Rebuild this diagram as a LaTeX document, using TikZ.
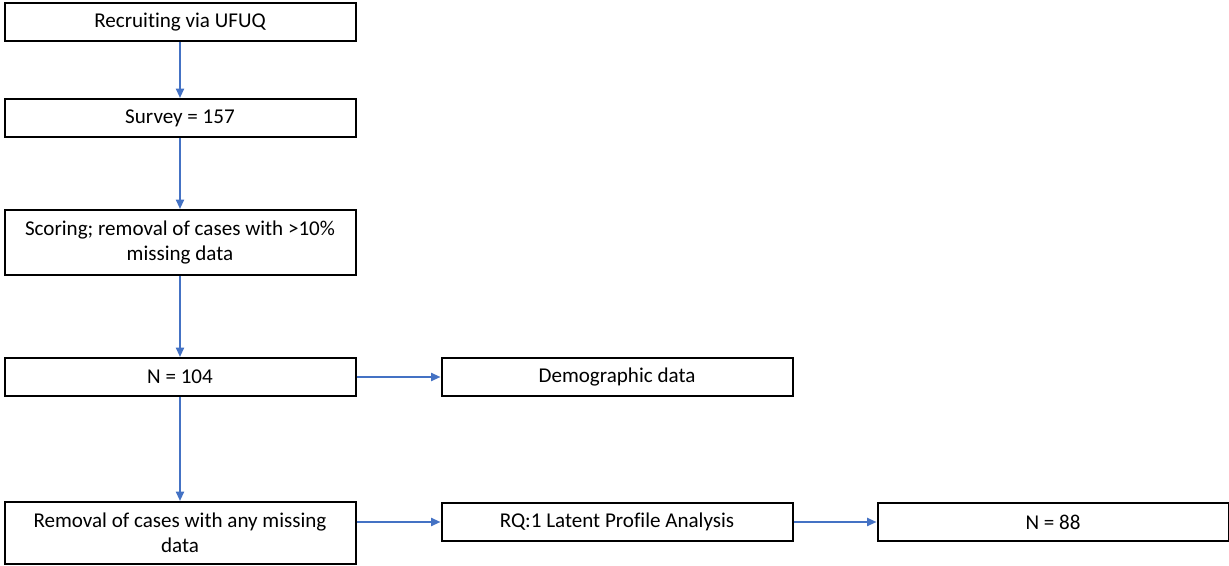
\documentclass[tikz,border=0pt]{standalone}
\usepackage{fontspec}
\setmainfont[Ligatures={NoCommon}]{Carlito}
\usetikzlibrary{arrows.meta}
\definecolor{arrowblue}{HTML}{4472C4}
\begin{document}
\begin{tikzpicture}[x=0.75pt,y=-0.75pt,
  box/.style={draw=black, line width=1.5pt, minimum width=351*0.75pt, align=center, inner sep=0pt, font=\fontsize{15.8pt}{18.5pt}\selectfont},
  conn/.style={draw=arrowblue, line width=1.4pt, -{Triangle[length=7pt,width=6pt]}}]
\useasboundingbox (0,0) rectangle (1229,566);
\node[box, minimum height=38*0.75pt] (recruit) at (180,22) {Recruiting via UFUQ};
\node[box, minimum height=38*0.75pt] (survey) at (180,118) {Survey = 157};
\node[box, minimum height=65*0.75pt] (scoring) at (180,242.5) {Scoring; removal of cases with >10\%\\missing data};
\node[box, minimum height=38*0.75pt] (n104) at (180,377) {N = 104};
\node[box, minimum height=38*0.75pt] (demo) at (617,377) {Demographic data};
\node[box, minimum height=62*0.75pt] (removal) at (180,533) {Removal of cases with any missing\\data};
\node[box, minimum height=38*0.75pt] (lpa) at (617,522) {RQ:1 Latent Profile Analysis};
\node[box, minimum height=38*0.75pt] (n88) at (1053,522) {N = 88};
\draw[conn] (recruit) -- (survey);
\draw[conn] (survey) -- (scoring);
\draw[conn] (scoring) -- (n104);
\draw[conn] (n104) -- (removal);
\draw[conn] (n104) -- (demo);
\draw[conn] (lpa.west -| removal.east) -- (lpa.west);
\draw[conn] (lpa) -- (n88);
\end{tikzpicture}
\end{document}
